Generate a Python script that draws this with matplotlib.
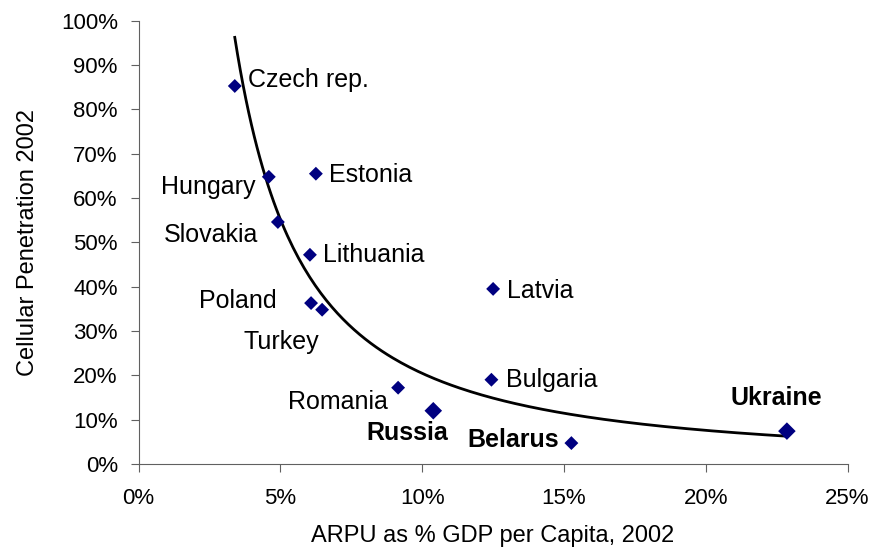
import numpy as np
import matplotlib
matplotlib.use("Agg")
import matplotlib.pyplot as plt
from matplotlib.ticker import PercentFormatter

plt.rcParams['font.family'] = ['Liberation Sans', 'DejaVu Sans']

# data
countries = ["Czech rep.", "Hungary", "Estonia", "Slovakia", "Lithuania", "Poland",
             "Turkey", "Latvia", "Romania", "Bulgaria", "Russia", "Belarus", "Ukraine"]
arpu = [3.39, 4.59, 6.25, 4.91, 6.04, 6.08, 6.47, 12.5, 9.15, 12.44, 10.39, 15.26, 22.86]
penetration = [85.3, 64.8, 65.5, 54.6, 47.2, 36.3, 34.8, 39.5, 17.2, 19.0, 12.0, 4.7, 7.4]
bold = ["Russia", "Ukraine"]
bold_text = ["Russia", "Belarus", "Ukraine"]

# label offsets in pixels (dx, dy, ha)
offsets = {
    "Czech rep.": (13, 6, "left"), "Hungary": (-13, -10, "right"),
    "Estonia": (13, -1, "left"), "Slovakia": (-20, -13, "right"),
    "Lithuania": (13, 0, "left"), "Poland": (-34, 2, "right"),
    "Turkey": (-3, -32, "right"), "Latvia": (14, -2, "left"),
    "Romania": (-10, -14, "right"), "Bulgaria": (15, 0, "left"),
    "Russia": (15, -22, "right"), "Belarus": (-12, 3, "right"),
    "Ukraine": (-11, 33, "center"),
}

fig = plt.figure(figsize=(8.72, 5.49), dpi=100)
ax = fig.add_axes([0.159, 0.155, 0.813, 0.807])

x = np.array(arpu)
y = np.array(penetration)

# power trendline
b, lna = np.polyfit(np.log(x), np.log(y), 1)
xs = np.linspace(x.min(), x.max(), 200)
ax.plot(xs, np.exp(lna) * xs ** b, color="black", lw=2, zorder=2)

sizes = [80 if c in bold else 50 for c in countries]
ax.scatter(x, y, marker="D", s=sizes, color="#000080", zorder=3, linewidths=0)

for name, xv, yv in zip(countries, arpu, penetration):
    dx, dy, ha = offsets[name]
    ax.annotate(name, (xv, yv), xytext=(dx, dy), textcoords="offset pixels",
                ha=ha, va="center", fontsize=18,
                fontweight="bold" if name in bold_text else "normal")

ax.set_xlim(0, 25)
ax.set_ylim(0, 100)
ax.set_xticks(np.arange(0, 26, 5))
ax.set_yticks(np.arange(0, 101, 10))
ax.xaxis.set_major_formatter(PercentFormatter(decimals=0))
ax.yaxis.set_major_formatter(PercentFormatter(decimals=0))
ax.tick_params(labelsize=16, direction="out", length=6, color="#606060")
ax.tick_params(axis="x", pad=11)
ax.tick_params(axis="y", pad=9)
for s in ["top", "right"]:
    ax.spines[s].set_visible(False)
for s in ["left", "bottom"]:
    ax.spines[s].set_color("#606060")

ax.set_xlabel("ARPU as % GDP per Capita, 2002", fontsize=17, labelpad=12)
ax.set_ylabel("Cellular Penetration 2002", fontsize=17, labelpad=16)

fig.savefig("out.png", dpi=100)
